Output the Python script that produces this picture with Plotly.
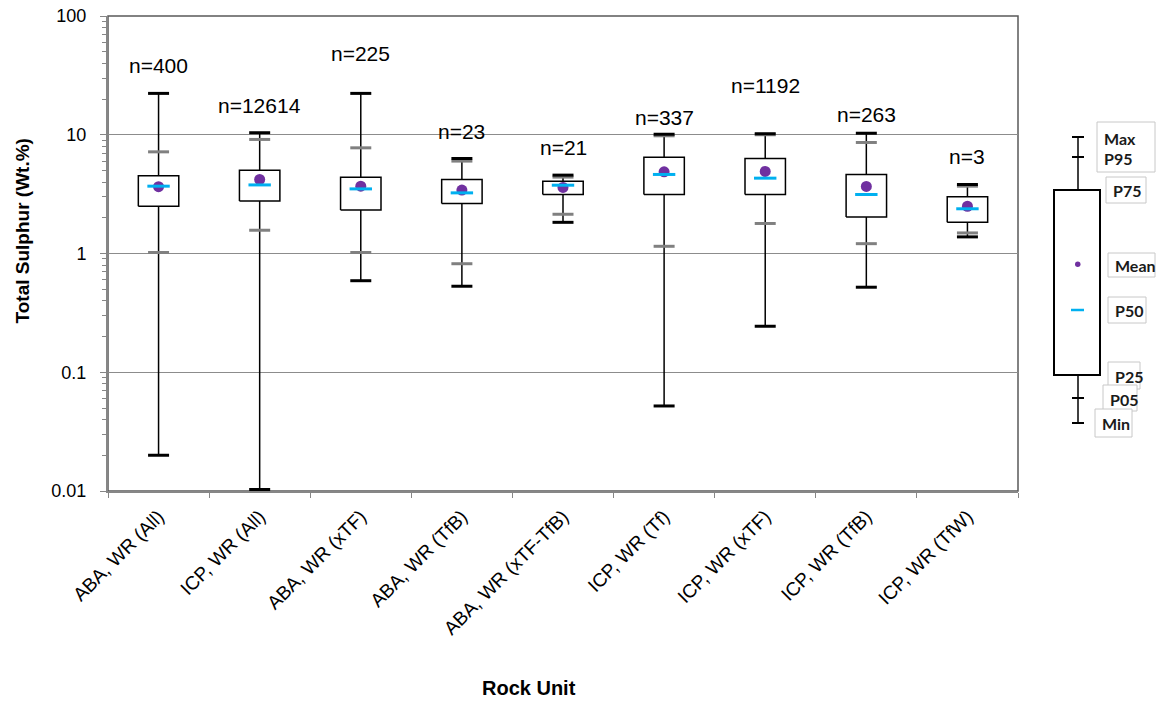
import numpy as np
import plotly.graph_objects as go

# Total sulphur statistics (Wt.%) per rock unit / method
categories = ["ABA, WR (All)", "ICP, WR (All)", "ABA, WR (xTF)", "ABA, WR (TfB)",
              "ABA, WR (xTF-TfB)", "ICP, WR (Tf)", "ICP, WR (xTF)", "ICP, WR (TfB)",
              "ICP, WR (TfW)"]
n_samples = [400, 12614, 225, 23, 21, 337, 1192, 263, 3]
s_min = [0.020, 0.0103, 0.59, 0.53, 1.83, 0.052, 0.244, 0.52, 1.38]
s_p05 = [1.02, 1.57, 1.02, 0.82, 2.14, 1.15, 1.79, 1.21, 1.49]
s_p25 = [2.50, 2.77, 2.32, 2.64, 3.14, 3.14, 3.14, 2.03, 1.83]
s_p50 = [3.69, 3.78, 3.50, 3.24, 3.76, 4.63, 4.31, 3.14, 2.38]
s_mean = [3.65, 4.20, 3.69, 3.42, 3.60, 4.87, 4.91, 3.67, 2.50]
s_p75 = [4.51, 5.03, 4.39, 4.20, 4.06, 6.48, 6.31, 4.63, 3.00]
s_p95 = [7.18, 9.13, 7.76, 6.00, 4.40, 9.80, 10.0, 8.61, 3.69]
s_max = [22.3, 10.4, 22.3, 6.31, 4.57, 10.1, 10.2, 10.3, 3.81]
# heights (Wt.%) at which the sample-count labels sit
n_label_y = [38.0, 17.6, 48.7, 10.7, 7.86, 14.0, 25.8, 14.9, 6.56]

W, H = 1168, 701
ML, MR, MT, MB = 108, 150, 16, 210
PW, PH = W - ML - MR, H - MT - MB

FONT = "Liberation Sans"
KEY_FONT = "Lato"
PURPLE = "#7030a0"
CYAN = "#00b0f0"

xs = np.arange(len(categories))
half = 0.2

fig = go.Figure()

# whiskers (min to max)
wx, wy = [], []
for i in xs:
    wx += [i, i, None]
    wy += [s_min[i], s_max[i], None]
fig.add_trace(go.Scatter(x=wx, y=wy, mode="lines",
                         line=dict(color="black", width=1.5), hoverinfo="skip"))

# boxes P25-P75
bx, by = [], []
for i in xs:
    bx += [i - half, i + half, i + half, i - half, i - half, None]
    by += [s_p25[i], s_p25[i], s_p75[i], s_p75[i], s_p25[i], None]
fig.add_trace(go.Scatter(x=bx, y=by, mode="lines", fill="toself", fillcolor="white",
                         line=dict(color="black", width=1.5), hoverinfo="skip"))

# P05 / P95 ticks
fig.add_trace(go.Scatter(x=list(xs) + list(xs), y=s_p05 + s_p95, mode="markers",
                         marker=dict(symbol="line-ew", size=15,
                                     line=dict(color="#808080", width=3)),
                         hoverinfo="skip"))
# min / max caps
fig.add_trace(go.Scatter(x=list(xs) + list(xs), y=s_min + s_max, mode="markers",
                         marker=dict(symbol="line-ew", size=15,
                                     line=dict(color="black", width=3)),
                         hoverinfo="skip"))
# mean
fig.add_trace(go.Scatter(x=xs, y=s_mean, mode="markers",
                         marker=dict(symbol="circle", size=11, color=PURPLE),
                         hoverinfo="skip"))
# median
fig.add_trace(go.Scatter(x=xs, y=s_p50, mode="markers",
                         marker=dict(symbol="line-ew", size=16,
                                     line=dict(color=CYAN, width=3)),
                         hoverinfo="skip"))

annotations = []
for i in xs:
    annotations.append(dict(x=i, y=np.log10(n_label_y[i]), xref="x", yref="y",
                            text=f"n={n_samples[i]}", showarrow=False,
                            xanchor="center", yanchor="middle",
                            font=dict(family=FONT, size=21, color="black")))

# axis titles
annotations.append(dict(x=(529 - ML) / PW, y=(MT + PH - 688) / PH, xref="paper", yref="paper",
                        text="<b>Rock Unit</b>", showarrow=False,
                        xanchor="center", yanchor="middle",
                        font=dict(family=FONT, size=20, color="black")))
annotations.append(dict(x=(22.5 - ML) / PW, y=(MT + PH - 231) / PH, xref="paper", yref="paper",
                        text="<b>Total Sulphur (Wt.%)</b>", showarrow=False, textangle=-90,
                        xanchor="center", yanchor="middle",
                        font=dict(family=FONT, size=19, color="black")))


def px(x):
    return (x - ML) / PW


def py(y):
    return (MT + PH - y) / PH


shapes = [dict(type="rect", xref="paper", yref="paper", x0=0, x1=1, y0=0, y1=1,
               line=dict(color="#595959", width=1.5), layer="below")]

# key: schematic box on the right
kx = 1078
shapes.append(dict(type="line", xref="paper", yref="paper", x0=px(kx), x1=px(kx),
                   y0=py(137), y1=py(423), line=dict(color="black", width=1.5)))
shapes.append(dict(type="rect", xref="paper", yref="paper", x0=px(1054), x1=px(1100),
                   y0=py(375), y1=py(190), fillcolor="white",
                   line=dict(color="black", width=2)))
for yy in (137, 157, 398, 423):
    shapes.append(dict(type="line", xref="paper", yref="paper", x0=px(1072), x1=px(1084),
                       y0=py(yy), y1=py(yy), line=dict(color="black", width=2)))
shapes.append(dict(type="circle", xref="paper", yref="paper", x0=px(1075), x1=px(1080.5),
                   y0=py(267), y1=py(261.5), fillcolor=PURPLE, line=dict(width=0)))
shapes.append(dict(type="line", xref="paper", yref="paper", x0=px(1071), x1=px(1084),
                   y0=py(310), y1=py(310), line=dict(color=CYAN, width=2.5)))

key_boxes = [
    # (x0, x1, y0, y1, [(text, y), ...])
    (1097, 1155, 122, 172, [("Max", 138), ("P95", 158)]),
    (1106, 1146, 177, 203, [("P75", 190.5)]),
    (1108, 1155, 253, 277, [("Mean", 265)]),
    (1108, 1146, 297, 323, [("P50", 310)]),
    (1108, 1140, 362, 389, [("P25", 376.5)]),
    (1103, 1137, 385, 411, [("P05", 399)]),
    (1095, 1132, 409, 437, [("Min", 423)]),
]
for x0, x1, y0, y1, texts in key_boxes:
    shapes.append(dict(type="rect", xref="paper", yref="paper", x0=px(x0), x1=px(x1),
                       y0=py(y1), y1=py(y0), fillcolor="white",
                       line=dict(color="#c8c8c8", width=1)))
    for t, ty in texts:
        annotations.append(dict(x=px(x0 + 5), y=py(ty), xref="paper", yref="paper",
                                xanchor="left", yanchor="middle", text=f"<b>{t}</b>",
                                showarrow=False,
                                font=dict(family=KEY_FONT, size=16, color="#1a1a1a")))

minor_vals = [k * 10.0 ** e for e in range(-2, 2) for k in range(2, 10)]

fig.update_layout(
    width=W, height=H,
    margin=dict(l=ML, r=MR, t=MT, b=MB, pad=0, autoexpand=False),
    paper_bgcolor="white", plot_bgcolor="white",
    showlegend=False,
    font=dict(family=FONT, size=18, color="black"),
    xaxis=dict(range=[-0.5, len(categories) - 0.5], tickvals=list(xs), ticktext=categories,
               tickangle=-45, ticks="", showgrid=False, zeroline=False, automargin=False,
               ticklabelstandoff=5,
               showline=True, linecolor="#868686", linewidth=2,
               tickfont=dict(family=FONT, size=19, color="black"),
               minor=dict(tickvals=[i - 0.5 for i in range(len(categories) + 1)],
                          ticks="outside", ticklen=5, tickcolor="#868686", tickwidth=1,
                          showgrid=False)),
    yaxis=dict(type="log", range=[-2, 2], automargin=False,
               tickvals=[0.01, 0.1, 1, 10, 100], ticktext=["0.01", "0.1", "1", "10", "100"],
               ticks="outside", ticklen=6, tickcolor="#868686", tickwidth=1,
               ticklabelstandoff=10,
               showgrid=True, gridcolor="#8c8c8c", gridwidth=1.3, zeroline=False,
               showline=True, linecolor="#868686", linewidth=2,
               tickfont=dict(family=FONT, size=18, color="black"),
               minor=dict(tickvals=minor_vals, ticks="outside", ticklen=4,
                          tickcolor="#868686", tickwidth=1, showgrid=False)),
    annotations=annotations,
    shapes=shapes,
)

fig.write_html("out.html")
